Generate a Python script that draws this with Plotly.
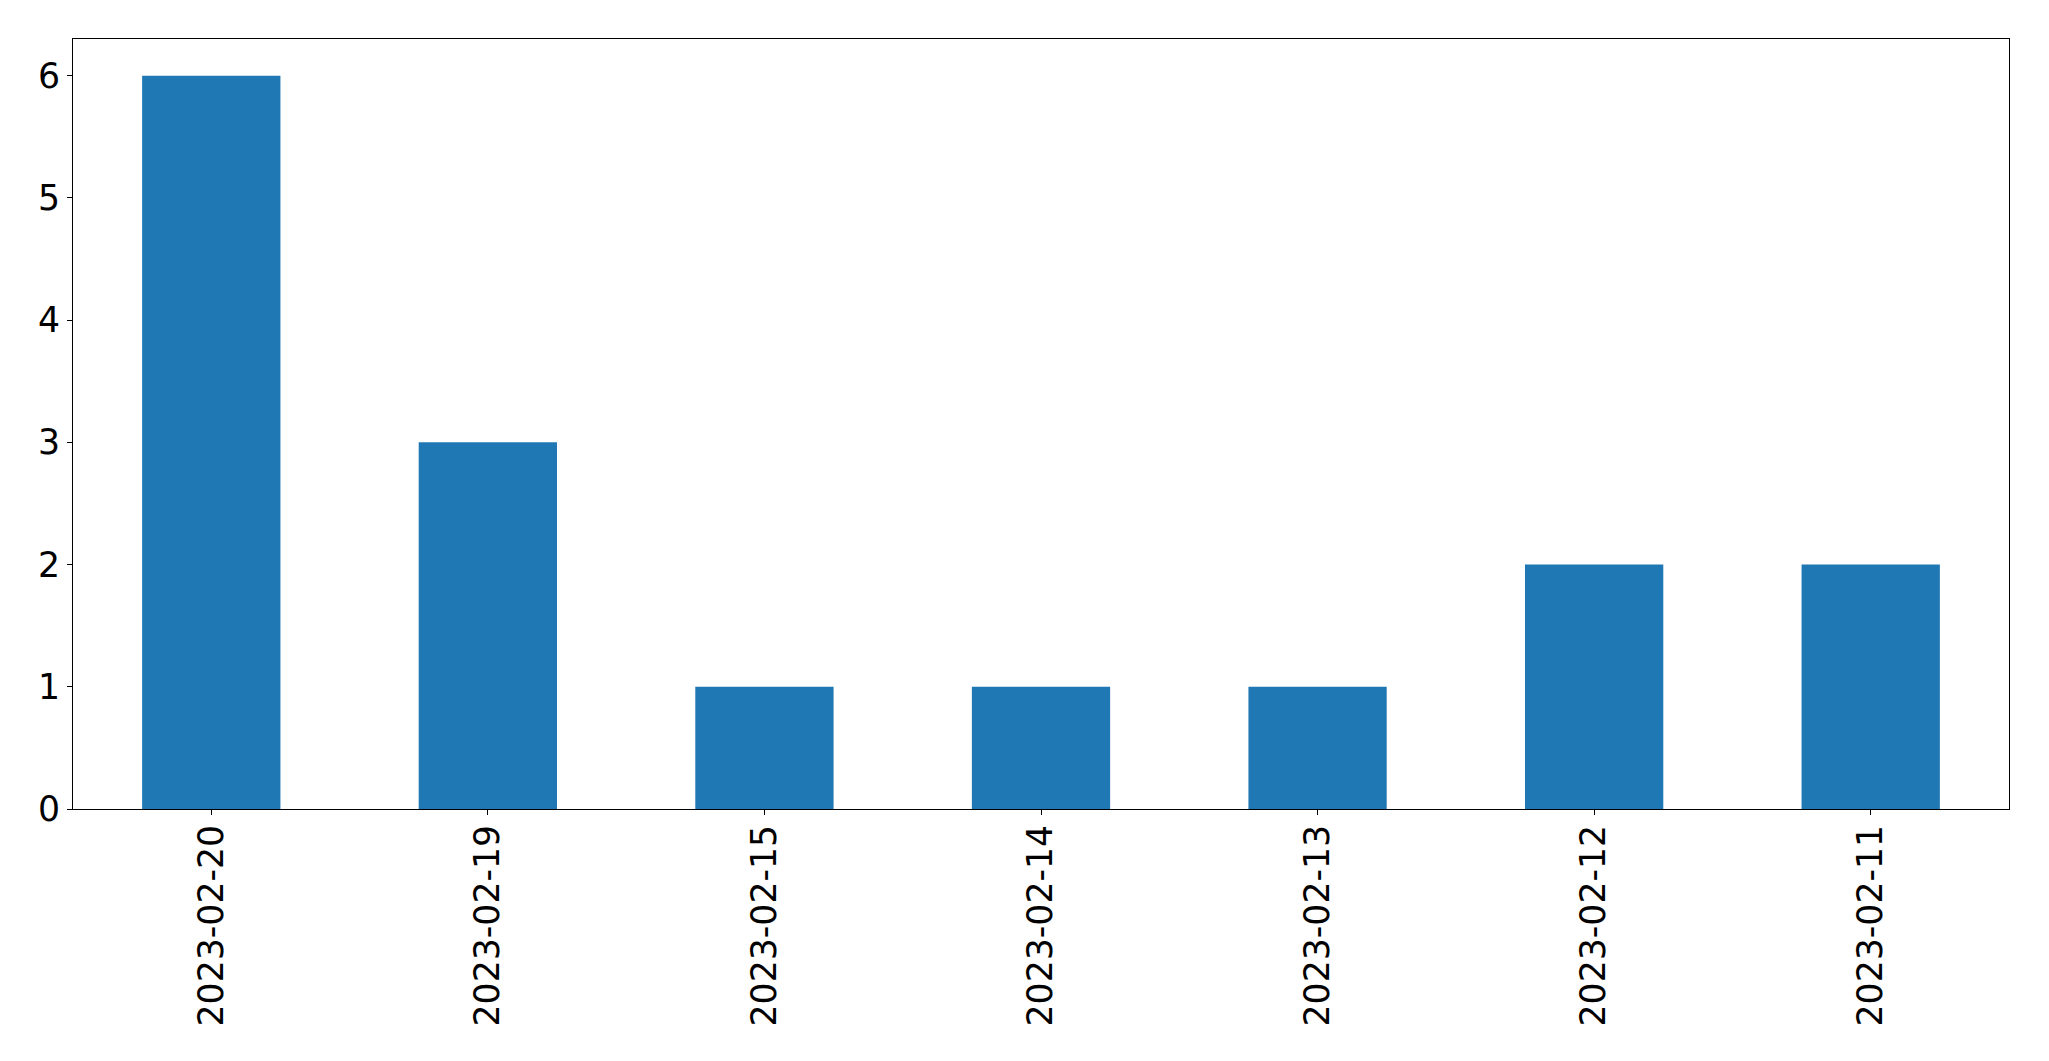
import plotly.graph_objects as go

dates = ["2023-02-20", "2023-02-19", "2023-02-15", "2023-02-14", "2023-02-13", "2023-02-12", "2023-02-11"]
counts = [6, 3, 1, 1, 1, 2, 2]
y_ticks = [0, 1, 2, 3, 4, 5, 6]

fig = go.Figure(go.Bar(x=dates, y=counts, width=0.5, marker=dict(color="#1f77b4", line=dict(width=0))))

axis_common = dict(showline=True, linecolor="black", linewidth=1, mirror=True,
                   ticks="outside", ticklen=5, tickwidth=1, tickcolor="black",
                   showgrid=False, zeroline=False, automargin=False,
                   tickfont=dict(family="DejaVu Sans", size=34.7, color="black"))

# page body adds an 8px offset; compensate in margins
fig.update_layout(
    width=2049, height=1061,
    margin=dict(l=64.5, r=47.7, t=31.3, b=260),
    plot_bgcolor="white", paper_bgcolor="white",
    showlegend=False,
    xaxis=dict(type="category", range=[-0.5, 6.5], tickangle=-90, ticklabelstandoff=-4, **axis_common),
    yaxis=dict(range=[0, 6.3], tickvals=y_ticks, **axis_common),
)

fig.write_html("out.html")
